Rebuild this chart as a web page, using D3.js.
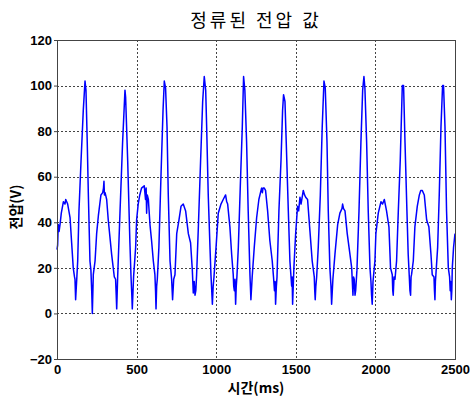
<!DOCTYPE html>
<html>
<head>
<meta charset="utf-8">
<script src="https://cdn.jsdelivr.net/npm/d3@7"></script>
<style>
  html, body { margin: 0; padding: 0; background: #fff; }
  svg text { font-family: "Liberation Sans", Arial, sans-serif; }
</style>
</head>
<body>
<div id="chart"></div>
<script>
// ─── Data ─────────────────────────────────────────────────────────────────────
const timeMs = [
  0, 4, 8, 13, 19, 27, 40, 50, 55, 67, 82, 92, 102, 110, 113, 117, 120, 124, 130, 138,
  151, 165, 176, 182, 190, 197, 207, 213, 218, 222, 228, 239, 249, 260, 276, 287, 292, 295, 298, 302,
  312, 322, 343, 360, 368, 372, 375, 381, 396, 412, 427, 431, 444, 458, 465, 470, 473, 481, 494, 500,
  510, 520, 531, 548, 556, 560, 563, 567, 574, 584, 594, 605, 615, 619, 622, 626, 630, 640, 653, 666,
  674, 682, 691, 699, 710, 720, 726, 733, 741, 752, 766, 779, 793, 808, 825, 839, 850, 856, 862, 867,
  872, 877, 888, 902, 915, 925, 934, 940, 950, 961, 967, 972, 976, 981, 986, 999, 1013, 1030, 1044, 1059,
  1066, 1072, 1086, 1097, 1107, 1110, 1114, 1118, 1122, 1126, 1130, 1139, 1151, 1164, 1172, 1180, 1191, 1201, 1212, 1218,
  1226, 1239, 1254, 1268, 1285, 1290, 1294, 1302, 1310, 1323, 1337, 1352, 1360, 1366, 1370, 1373, 1378, 1382, 1394, 1407,
  1417, 1423, 1432, 1440, 1453, 1463, 1474, 1477, 1480, 1488, 1499, 1511, 1518, 1526, 1533, 1547, 1555, 1562, 1574, 1589,
  1603, 1616, 1619, 1622, 1626, 1631, 1641, 1654, 1666, 1677, 1685, 1696, 1704, 1714, 1721, 1725, 1733, 1746, 1763, 1777,
  1790, 1794, 1800, 1809, 1823, 1840, 1851, 1855, 1859, 1863, 1867, 1872, 1876, 1884, 1897, 1909, 1920, 1928, 1934, 1945,
  1955, 1966, 1972, 1976, 1980, 1985, 1989, 1997, 2003, 2008, 2018, 2035, 2045, 2056, 2070, 2085, 2095, 2106, 2109, 2112,
  2117, 2123, 2133, 2144, 2156, 2169, 2177, 2186, 2198, 2206, 2213, 2217, 2221, 2224, 2227, 2238, 2248, 2263, 2276, 2285,
  2294, 2307, 2322, 2336, 2349, 2357, 2368, 2371, 2374, 2377, 2380, 2391, 2401, 2412, 2422, 2428, 2437, 2447, 2458, 2466,
  2470, 2473, 2477, 2480, 2483, 2491, 2500
];
const voltage = [
  28, 30, 39, 36, 39, 44, 49, 48, 50, 48, 42, 31, 20, 16, 15, 6, 10, 15, 23, 45,
  67, 89, 102, 98, 75, 52, 23, 19, 10, 0, 17, 23, 35, 43, 52, 53, 55, 58, 52, 53,
  50, 41, 26, 16, 15, 8, 2, 16, 45, 75, 98, 95, 67, 31, 16, 8, 2, 16, 29, 41,
  48, 52, 55, 56, 50, 55, 44, 52, 50, 39, 32, 23, 17, 10, 2, 12, 15, 29, 60, 89,
  102, 99, 82, 52, 23, 15, 6, 15, 17, 35, 41, 47, 48, 45, 35, 31, 19, 9, 14, 8,
  10, 17, 38, 67, 93, 104, 98, 82, 52, 29, 17, 10, 4, 12, 16, 29, 44, 48, 50, 52,
  49, 48, 38, 26, 17, 12, 10, 15, 4, 12, 16, 29, 55, 82, 104, 98, 75, 45, 17, 6,
  16, 29, 42, 50, 55, 53, 55, 55, 54, 45, 32, 23, 16, 10, 14, 4, 12, 16, 45, 67,
  89, 96, 93, 75, 45, 23, 12, 16, 4, 20, 35, 47, 45, 51, 48, 54, 52, 51, 50, 36,
  23, 16, 10, 6, 12, 16, 29, 52, 82, 102, 99, 75, 45, 20, 12, 4, 15, 26, 39, 44,
  46, 48, 46, 45, 35, 26, 20, 14, 8, 16, 15, 8, 10, 19, 45, 75, 98, 104, 99, 75,
  45, 20, 14, 8, 4, 14, 17, 23, 35, 38, 44, 49, 48, 50, 45, 38, 20, 17, 10, 8,
  16, 15, 23, 45, 67, 100, 100, 75, 45, 26, 16, 10, 8, 16, 17, 23, 38, 47, 52, 54,
  54, 52, 41, 38, 26, 17, 16, 10, 6, 14, 17, 29, 52, 82, 100, 100, 82, 45, 20, 16,
  10, 14, 6, 10, 20, 29, 35
];
const xTicks = [0, 500, 1000, 1500, 2000, 2500];
const yTicks = [-20, 0, 20, 40, 60, 80, 100, 120];
const titleText = "정류된 전압 값";
const xLabel = "시간(ms)";
const yLabel = "전압(V)";

// ─── Chart ────────────────────────────────────────────────────────────────────
const W = 470, H = 397;
const margin = { top: 40, right: 15, bottom: 38, left: 57 };
const w = W - margin.left - margin.right;
const h = H - margin.top - margin.bottom;

const svg = d3.select("#chart").append("svg")
  .attr("width", W).attr("height", H)
  .attr("viewBox", `0 0 ${W} ${H}`);

svg.append("rect").attr("width", W).attr("height", H).attr("fill", "#fff");

const x = d3.scaleLinear().domain([0, 2500]).range([0, w]);
const y = d3.scaleLinear().domain([-20, 120]).range([h, 0]);

const g = svg.append("g").attr("transform", `translate(${margin.left},${margin.top})`);

// grid (dotted, MATLAB style)
g.append("g").selectAll("line").data(xTicks.slice(1, -1)).join("line")
  .attr("x1", (d) => Math.round(x(d)) + 0.5).attr("x2", (d) => Math.round(x(d)) + 0.5)
  .attr("y1", 0).attr("y2", h)
  .attr("stroke", "#444").attr("stroke-width", 1).attr("stroke-dasharray", "2,2");
g.append("g").selectAll("line").data(yTicks.slice(1, -1)).join("line")
  .attr("x1", 0).attr("x2", w)
  .attr("y1", (d) => Math.round(y(d)) + 0.5).attr("y2", (d) => Math.round(y(d)) + 0.5)
  .attr("stroke", "#444").attr("stroke-width", 1).attr("stroke-dasharray", "2,2");

// signal
const pts = timeMs.map((t, i) => ({ t, v: voltage[i] }));
const line = d3.line().x((d) => x(d.t)).y((d) => y(d.v));
g.append("path").datum(pts)
  .attr("fill", "none").attr("stroke", "#0000ff").attr("stroke-width", 1.5)
  .attr("stroke-linejoin", "round")
  .attr("d", line);

// axes box
g.append("rect").attr("x", 0.5).attr("y", 0.5).attr("width", w).attr("height", h)
  .attr("fill", "none").attr("stroke", "#444").attr("stroke-width", 1);

const yAxis = g.append("g")
  .call(d3.axisLeft(y).tickValues(yTicks).tickFormat(d3.format("d")).tickSize(3).tickPadding(2));
yAxis.select(".domain").remove();
yAxis.selectAll("line").attr("stroke", "#444");
yAxis.selectAll("text").attr("font-size", 13).attr("font-weight", "bold").attr("fill", "#000");

const xAxis = g.append("g").attr("transform", `translate(0,${h})`)
  .call(d3.axisBottom(x).tickValues(xTicks).tickFormat(d3.format("d")).tickSize(0).tickPadding(6));
xAxis.select(".domain").remove();
xAxis.selectAll("text").attr("font-size", 13).attr("font-weight", "bold").attr("fill", "#000");

// labels
svg.append("text").attr("x", 256).attr("y", 27)
  .attr("text-anchor", "middle")
  .style("font-family", "'Noto Sans CJK KR', sans-serif")
  .attr("font-size", 18).attr("letter-spacing", 3)
  .text(titleText);

svg.append("text").attr("x", 256).attr("y", 393)
  .attr("text-anchor", "middle")
  .style("font-family", "'Noto Sans CJK KR', sans-serif")
  .attr("font-size", 14).attr("font-weight", "bold")
  .text(xLabel);

svg.append("text")
  .attr("transform", "translate(21,207) rotate(-90)")
  .attr("text-anchor", "middle")
  .style("font-family", "'Noto Sans CJK KR', sans-serif")
  .attr("font-size", 14).attr("font-weight", "bold")
  .text(yLabel);
</script>
</body>
</html>
